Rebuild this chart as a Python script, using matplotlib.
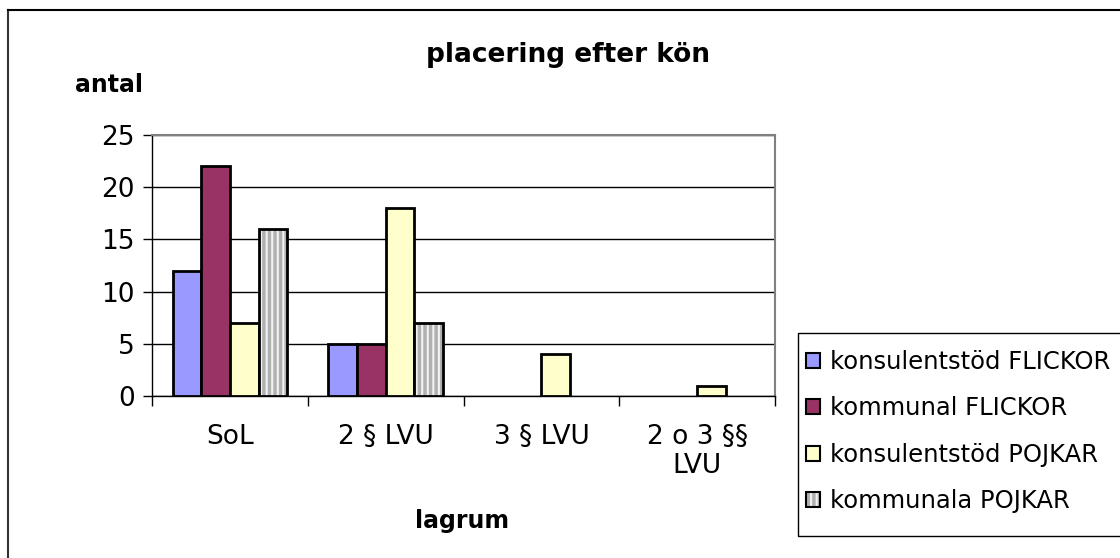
import numpy as np
import matplotlib.pyplot as plt
from matplotlib.patches import Rectangle, Patch
from matplotlib.lines import Line2D
from matplotlib.legend_handler import HandlerTuple

plt.rcParams['font.family'] = ['DejaVu Sans']
plt.rcParams['figure.dpi'] = 100
plt.rcParams['hatch.linewidth'] = 2.5

categories = ['SoL', '2 § LVU', '3 § LVU', '2 o 3 §§\nLVU']
series_names = ['konsulentstöd FLICKOR', 'kommunal FLICKOR',
                'konsulentstöd POJKAR', 'kommunala POJKAR']
konsulent_flickor = [12, 5, 0, 0]
kommunal_flickor = [22, 5, 0, 0]
konsulent_pojkar = [7, 18, 4, 1]
kommunala_pojkar = [16, 7, 0, 0]
yticks = [0, 5, 10, 15, 20, 25]

colors = ['#9999ff', '#993366', '#ffffcc', '#f2f2f2']
values = [konsulent_flickor, kommunal_flickor, konsulent_pojkar, kommunala_pojkar]

fig = plt.figure(figsize=(11.2, 5.58))
ax = fig.add_axes([152/1120, 1-396/558, 623/1120, 261/558])

x = np.arange(len(categories))
w = 0.184
for i, (vals, col) in enumerate(zip(values, colors)):
    vals = np.array(vals)
    pos = (x + (i - 1.5) * w)[vals > 0]   # zero bars are not drawn
    vals = vals[vals > 0]
    if i == 3:
        # striped bar: hatch first, then black outline on top
        ax.bar(pos, vals, w, color=col, edgecolor='#b0b0b0', hatch='|||', linewidth=0, zorder=3)
        ax.bar(pos, vals, w, fill=False, edgecolor='black', linewidth=2, zorder=4)
    else:
        ax.bar(pos, vals, w, color=col, edgecolor='black', linewidth=2, zorder=3)

ax.set_xlim(-0.5, 3.5)
ax.set_ylim(0, 25)
ax.set_yticks(yticks)
ax.set_yticklabels([str(t) for t in yticks], fontsize=19)
ax.yaxis.grid(True, color='black', linewidth=1)
ax.set_axisbelow(True)
ax.tick_params(axis='y', direction='out', length=6.5, width=1, pad=6)

ax.set_xticks(np.arange(-0.5, 4.0, 1.0))
ax.set_xticklabels([])
ax.set_xticks(x, minor=True)
ax.set_xticklabels(categories, minor=True, fontsize=19, linespacing=1.15)
ax.tick_params(axis='x', which='major', direction='out', length=7, width=1)
ax.tick_params(axis='x', which='minor', length=0, pad=20)

for s in ['top', 'right']:
    ax.spines[s].set_color('#808080')
    ax.spines[s].set_linewidth(1.5)
for s in ['left', 'bottom']:
    ax.spines[s].set_color('black')
    ax.spines[s].set_linewidth(1)

fig.text(568/1120, 1-55/558, 'placering efter kön', fontsize=19, fontweight='bold',
         ha='center', va='center')
fig.text(75/1120, 1-85/558, 'antal', fontsize=17, fontweight='bold', ha='left', va='center')
fig.text(462/1120, 1-521/558, 'lagrum', fontsize=17, fontweight='bold', ha='center', va='center')

# outer chart frame (left and top edges visible)
fig.add_artist(Line2D([8/1120, 8/1120], [0, 1-10/558], transform=fig.transFigure,
                      color='#333333', linewidth=1.5))
fig.add_artist(Line2D([8/1120, 1], [1-10/558, 1-10/558], transform=fig.transFigure,
                      color='black', linewidth=1.5))

# legend box
fig.add_artist(Rectangle((798/1120, 1-536/558), 0.3, 203/558, transform=fig.transFigure,
                         fill=False, edgecolor='black', linewidth=1))
handles = []
for i, col in enumerate(colors):
    if i == 3:
        handles.append((Patch(facecolor=col, edgecolor='#b0b0b0', hatch='|||', linewidth=0),
                        Patch(fill=False, edgecolor='black', linewidth=1.5)))
    else:
        handles.append(Patch(facecolor=col, edgecolor='black', linewidth=1.5))
fig.legend(handles, series_names, loc='upper left', bbox_to_anchor=(806/1120, 1-350/558),
           frameon=False, fontsize=17.5, handlelength=0.58, handleheight=0.58,
           handletextpad=0.42, labelspacing=0.92, borderpad=0, borderaxespad=0,
           handler_map={tuple: HandlerTuple(ndivide=1, pad=0)})

fig.savefig('out.png', dpi=100)
